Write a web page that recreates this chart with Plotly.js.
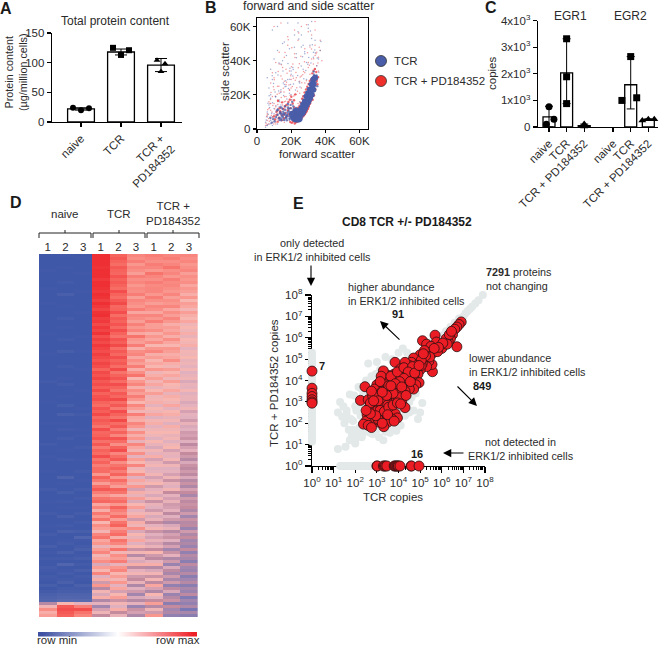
<!DOCTYPE html>
<html>
<head>
<meta charset="utf-8">
<title>ERK1/2 inhibition proteomics figure</title>
<script src="https://cdn.plot.ly/plotly-3.0.1.min.js"></script>
<style>
  body { margin: 0; background: #fff; }
</style>
</head>
<body>
<div id="chart"></div>
<script>
// Panel A: total protein content
const groupNames = ['naive', 'TCR', 'TCR +<br>PD184352'];
const proteinMeans = [22, 118, 96];
const proteinErr = [2, 5, 11];
const proteinNaive = [24, 20, 23];
const proteinTcr = [125, 113, 121];
const proteinPd = [104, 85, 98];

// Panel B: forward / side scatter, in thousands
const coreFsc = [21,22,23,24,25,22,23,24,25,26,24,25,26,27,26,27,28,27,28,29,28,29,30,29,30,31,30,31,32,31,32,33,32,33,33,34,21.5,22.5,23.5,24.5,22.5,23.5,24.5,20.5];
const coreSsc = [8,7,7,7,8,9,9,9,9,9,6,6,10,10,12,12,12,14,14,14,16,16,16,19,18,18,21,20,20,23,23,23,26,26,29,30,6.5,5.5,5.5,5.5,10.5,10.5,10.5,9];
const hazeRedFsc = [19.5,20.4,21.2,22.1,22.8,23.6,24.3,25.1,25.8,26.4,27.2,27.9,28.6,29.3,30.1,30.8,31.4,32.2,32.9,33.6,34.3,35.1,34.7,33.9,33.1,32.4,31.7,30.9,30.2,29.4,28.7,27.9,27.1,26.4,25.6,24.9,24.1,23.4,22.6,21.8,21.1,20.3,19.6,18.8,18.1,17.4,16.6,15.9,15.1,14.4,13.6,12.9,12.1,11.4,10.6,9.9,17.2,16.3,15.5,14.7,13.8,13.1,12.3,11.6,18.4,19.2,20.1,20.9,21.7,22.5,30.4,31.1,32.6,33.4,34.2,35.4,35.8,34.9,27.4,28.2,29.1,29.9];
const hazeRedSsc = [4.1,3.6,4.4,3.2,3.9,4.2,4.8,5.1,5.9,6.8,7.6,8.7,9.8,11.2,12.9,14.6,16.3,18.2,20.7,22.9,25.8,28.9,33.4,35.2,34.1,32.6,29.1,28.2,26.4,24.8,23.1,21.4,19.2,17.7,15.4,13.6,12.4,11.8,11.1,12.6,10.2,9.4,12.2,8.6,10.8,7.4,9.2,6.3,8.1,5.2,10.4,6.6,4.3,8.2,5.5,7.3,14.1,13.2,11.7,15.6,9.4,12.1,16.4,10.3,15.8,17.2,18.9,14.9,16.8,20.3,13.4,15.1,17.1,19.6,23.2,26.2,30.4,27.8,8.2,9.1,10.4,11.9];
const hazeBlueFsc = [11.2,12.1,12.9,13.7,14.6,15.3,16.2,17.1,17.9,18.7,19.4,20.2,21.1,21.8,12.4,13.2,14.1,14.9,15.8,16.6,17.4,18.2,19.1,19.9,20.7,21.5,22.3,13.6,14.4,15.2,16.1,16.9,17.7,18.6,19.3,20.1,21.0,22.1,16.4,18.1,19.7,21.3,22.9,24.2,25.4,26.6,27.6,28.4,29.2,30.3,31.2,32.1,32.8,33.7,34.4,25.1,26.1,27.1,27.8,28.9,29.8,30.7,31.6,32.6,33.4,35.3,34.9,33.2,20.6,18.6,9.4,10.3,8.6,7.8,15.6,17.3,19.6,13.9,11.7,14.2];
const hazeBlueSsc = [7.1,8.3,6.4,9.2,7.7,10.1,8.4,6.9,9.6,7.4,8.9,6.7,9.9,7.8,11.2,5.6,6.2,11.8,5.4,11.3,5.1,12.6,5.8,12.1,5.3,11.4,4.9,9.9,8.6,7.1,9.1,6.3,8.2,10.4,6.2,9.7,8.3,10.6,13.4,14.6,14.1,13.2,12.3,5.4,6.1,7.4,8.3,10.1,12.2,14.4,16.1,18.3,20.4,23.1,27.1,12.9,15.1,17.2,19.4,21.6,23.9,26.2,27.9,30.1,31.8,25.1,31.4,33.6,15.9,11.9,5.8,4.6,3.7,6.6,8.9,7.9,7.2,12.7,10.9,5.1];
const redFsc = [5,6,6,7,7,8,8,9,9,10,10,11,11,12,12,13,13,14,14,15,15,16,16,17,17,18,18,19,19,20,20,21,22,23,24,25,26,27,28,29,30,31,32,33,34,35,36,37,38,8,9,10,11,12,13,14,15,16,17,18,19,20,21,22,24,26,28,30,32,34,36,6,7,8,9,10,11,12,13,14,16,18,20,22,25,28,31,34,37,10,14,18,22,26,30,34,13,17,23,29,35,
  5.6,6.3,7.2,7.9,8.4,9.3,9.8,10.7,11.3,12.2,12.8,13.4,14.2,15.1,15.8,16.7,17.3,18.2,19.1,19.8,20.7,21.6,22.4,23.3,24.2,25.3,26.2,27.3,5.3,6.8,7.6,8.8,9.6,10.4,11.8,12.6,13.7,14.8,15.4,16.1,17.6,18.7,19.4,20.2,21.3,22.8,23.7,24.8,25.7,26.8,27.8,28.9,29.6,30.7,31.9,33.2,34.6,35.7,36.4,6.1,8.2,10.1,12.4,14.3,16.4,18.3,20.4,22.2,24.4];
const redSsc = [2,5,9,3,12,6,15,4,19,8,23,3,13,6,17,5,10,8,22,5,14,4,28,7,19,5,12,9,34,7,17,5,6,10,15,21,24,18,27,22,36,32,41,38,43,37,34,46,40,27,33,30,39,25,45,31,36,42,26,49,23,29,38,44,52,31,47,39,55,49,42,8,16,11,7,15,4,9,21,12,16,11,24,20,28,33,48,58,52,60,62,54,58,60,57,63,38,35,30,61,45,
  7.3,11.2,4.6,17.3,8.1,13.7,2.9,19.2,9.6,14.3,25.1,6.7,18.4,11.9,21.6,16.3,27.4,13.8,22.7,31.2,24.9,19.3,28.6,24.2,35.8,30.4,27.1,33.6,3.4,6.1,14.9,9.9,24.7,11.7,20.3,16.8,12.6,29.3,23.8,18.9,32.6,25.7,19.8,36.4,29.7,33.1,22.1,38.2,42.6,31.7,39.4,28.3,44.7,37.3,46.8,41.2,44.1,38.7,47.9,2.6,21.4,28.8,33.7,37.6,44.8,52.3,47.6,41.9,56.2];
const blueFsc = [5,5,6,6,6,7,7,8,8,9,9,10,10,10,11,11,12,12,12,13,13,13,14,14,14,15,15,15,16,16,16,17,17,17,18,18,18,19,19,19,20,20,20,21,21,21,22,22,7,9,11,13,15,17,19,21,23,25,27,29,31,33,35,37,6,8,10,12,14,16,18,20,22,24,26,28,30,32,34,36,9,12,15,18,21,24,27,30,33,36,11,16,20,25,29,34,19,26,32,8,14,
  5.4,6.6,7.4,8.1,9.1,10.2,10.9,11.9,12.7,13.3,14.7,15.6,16.4,17.5,18.4,19.2,20.4,21.4,22.6,23.8,24.6,25.9,27.4,28.6,30.3,31.6,33.8,5.8,7.1,8.6,9.7,11.1,12.3,13.9,15.2,16.8,18.1,19.6,21.2,23.1,25.2,27.9,29.7,32.4,34.1,36.2,6.4,8.9,10.6,12.9,15.4,17.2,19.3,21.9,24.5,26.7,31.3,35.3,37.4];
const blueSsc = [1,4,2,7,10,3,14,5,18,2,7,4,9,12,6,10,3,8,12,5,9,13,7,10,14,6,9,12,5,8,11,7,10,13,6,9,15,5,8,12,7,10,20,6,9,14,5,11,24,29,33,17,40,25,21,31,44,27,35,39,49,42,37,46,30,35,41,46,38,51,29,32,55,62,48,44,59,53,52,41,58,60,50,62,36,57,49,61,45,30,19,26,34,16,29,35,47,55,63,20,23,
  5.3,8.7,12.6,3.1,15.4,6.2,18.7,11.4,22.3,15.9,12.8,19.6,24.8,17.6,23.7,29.1,17.2,26.3,22.8,31.4,27.6,36.9,29.4,34.2,41.8,38.6,46.3,2.2,19.4,9.2,26.7,13.8,31.6,21.4,33.9,28.2,38.4,26.1,34.8,41.7,24.6,45.2,37.9,49.3,44.6,33.2,15.1,31.2,21.7,38.6,26.9,43.1,35.6,47.8,52.7,42.3,57.4,41.6,51.2];

// Panel C: EGR1 and EGR2 copies
const egrPositions = [0, 1, 2, 3.64, 4.64, 5.64];
const egrLabels = ['naive', 'TCR', 'TCR + PD184352', 'naive', 'TCR', 'TCR + PD184352'];
const egrMeans = [380, 2040, 50, null, 1590, 280];
const egrUp = [400, 1280, 60, null, 1060, 30];
const egrDown = [380, 1160, 40, null, 910, 30];
const egrCirclesX = [0, 0.28, -0.15];
const egrCirclesY = [765, 290, 100];
const egrSquaresX = [1, 1, 1, 4.64, 4.14, 4.98];
const egrSquaresY = [3320, 1890, 880, 2650, 1000, 1100];
const egrTrianglesX = [2, 2, 2, 5.3, 5.64, 5.98];
const egrTrianglesY = [110, 40, 20, 240, 290, 290];

// Panel D: heatmap columns, 0 = row min blue, 90 = row max red
const heatNaive1 = [
  0,0,0,0,0,1,0,0,0,0,0,1, 0,0,0,0,1,0,0,0,0,0,0,0, 0,0,1,0,0,0,0,0,0,1,0,0, 0,0,0,0,0,0,2,0,0,0,0,0,
  0,1,0,0,0,0,0,0,1,0,0,0, 0,0,0,2,0,0,0,1,0,0,0,0, 1,0,0,0,0,0,3,0,0,0,1,0, 0,0,2,0,0,0,1,0,0,3,0,0,
  0,4,0,1,0,2,0,0,3,1,0,2, 1,0,4,0,2,6,8,10,36,58,70,62,66];
const heatNaive2 = [
  1,0,0,0,1,0,0,0,0,2,0,0, 0,5,0,0,0,1,0,0,0,3,0,0, 1,0,0,0,2,0,0,0,4,0,0,0, 0,2,0,0,0,1,0,3,0,0,0,1,
  0,0,4,0,0,6,0,0,1,0,2,0, 0,3,0,0,0,1,0,0,2,0,0,0, 0,0,8,0,1,0,0,4,0,0,2,0, 1,0,0,5,0,0,2,0,6,0,0,1,
  3,0,0,6,0,2,0,9,0,1,3,0, 2,6,0,3,4,8,10,12,60,82,84,82,80];
const heatNaive3 = [
  0,1,0,0,0,0,1,0,0,0,0,0, 1,0,0,0,0,0,0,1,0,0,0,0, 0,0,0,1,0,0,0,0,1,0,0,0, 0,0,1,0,0,0,0,0,0,1,0,0,
  0,0,0,1,0,2,0,0,0,0,1,0, 1,0,0,0,2,0,0,0,1,0,0,0, 2,0,0,1,0,0,3,0,0,2,0,0, 1,0,3,0,0,2,0,0,4,0,9,1,
  0,2,6,0,1,4,0,2,0,5,0,3, 1,0,6,2,4,8,9,12,52,74,84,76,72];
const heatTcr1 = [
  90,90,90,90,89,90,90,90,88,90,90,89, 88,90,89,87,90,88,86,89,90,87,88,85, 88,86,89,84,87,85,88,86,84,87,85,83,
  86,84,80,85,83,86,82,84,81,85,80,83, 84,80,78,83,81,85,79,82,80,76,84,79, 80,83,77,82,75,80,78,84,76,80,74,78,
  78,68,80,75,66,77,82,74,68,76,79,64, 72,62,75,68,76,60,70,66,58,72,76,64, 68,54,66,72,58,64,70,48,66,60,72,50,
  62,44,68,36,58,48,62,34,52,30,46,56, 40,52,34,48,28,42,36,46,28,40,14,10,8];
const heatTcr2 = [
  80,82,80,78,82,80,79,83,80,82,80,78, 84,80,78,82,85,79,80,84,78,82,80,83, 79,84,80,77,83,81,85,78,82,79,84,80,
  82,78,85,76,80,83,78,84,80,76,82,79, 85,78,82,75,84,80,76,85,78,82,74,80, 72,83,78,70,80,84,72,78,82,70,76,80,
  74,80,68,78,72,66,80,76,64,74,78,68, 80,74,70,78,66,76,80,68,74,78,62,76, 72,62,76,58,70,66,74,54,68,72,60,66,
  58,68,52,64,46,60,66,42,58,50,62,40, 54,44,60,36,50,46,56,38,48,32,44,14,8];
const heatTcr3 = [
  72,70,74,68,72,70,66,74,70,72,68,71, 70,74,66,72,70,68,74,64,72,70,66,73, 68,72,64,76,68,66,74,62,70,72,64,70,
  66,74,62,70,76,60,68,72,62,70,66,74, 68,60,72,66,58,74,64,62,72,68,56,70, 62,68,54,72,64,58,70,52,66,60,72,56,
  60,70,50,64,56,68,46,62,54,66,48,60, 66,52,58,64,44,62,56,70,48,60,54,64, 50,60,42,58,36,54,48,62,38,52,58,44,
  40,54,34,50,44,30,48,36,52,28,42,46, 34,48,28,42,36,30,44,26,38,24,30,12,8];
const heatPd1 = [
  74,72,70,74,72,68,76,72,70,74,71,72, 72,68,74,70,66,72,70,64,72,68,74,66, 66,70,62,68,64,70,60,68,72,62,66,60,
  64,60,68,56,62,66,58,64,54,60,66,56, 58,62,52,60,56,64,50,58,62,52,56,60, 56,50,60,54,48,58,52,62,46,54,58,50,
  52,58,46,54,60,44,52,56,48,58,42,54, 50,44,56,48,54,40,52,58,42,50,46,54, 46,54,40,60,44,38,52,62,36,48,58,42,
  58,38,64,46,34,60,50,40,66,36,56,44, 68,42,54,34,62,38,48,30,36,28,34,16,8];
const heatPd2 = [
  72,74,70,72,76,70,72,68,74,71,72,70, 68,72,66,70,68,72,64,70,66,72,68,62, 66,64,68,62,70,64,60,68,66,62,64,70,
  62,58,66,60,64,56,66,60,58,64,54,62, 60,56,64,52,60,62,54,58,50,62,56,60, 54,58,50,56,60,46,54,52,58,44,56,50,
  52,46,56,42,54,50,58,40,52,46,54,44, 46,52,38,50,44,34,48,54,36,46,42,50, 36,46,30,42,52,34,44,28,48,38,32,44,
  32,44,26,38,48,28,36,42,24,40,30,34, 26,40,30,22,36,28,24,34,20,28,22,14,10];
const heatPd3 = [
  72,70,72,68,70,72,66,70,68,70,64,68, 66,62,68,60,66,64,58,66,62,60,64,56, 60,56,62,54,60,58,62,52,58,56,60,54,
  56,52,58,50,54,56,48,54,52,58,50,54, 54,48,52,56,46,52,50,44,54,48,50,44, 46,42,50,38,46,52,40,44,36,48,42,38,
  44,38,48,36,42,34,46,40,32,44,38,42, 40,34,44,30,42,36,38,28,44,34,40,30, 34,28,40,26,36,32,24,38,30,28,36,24,
  30,36,24,32,28,38,22,30,26,34,20,32, 24,30,20,34,26,22,30,24,28,18,24,14,10];
const heatSampleLabels = ['1', '2', '3', '1', '2', '3', '1', '2', '3'];
const rampValues = [0, 1, 2, 3, 4, 5, 6, 7, 8, 9, 10, 11, 12, 13, 14, 15, 16, 17, 18, 19, 20];

// Panel E: log10 copies for each protein
const greyLogTcr = [
  1.2,1.55,1.8,2.0,2.1,2.3,1.9,2.2,2.4,2.6,2.8,3.0,2.5,2.9,3.2,3.4,1.3,1.2,1.45,1.6,1.75,1.9,2.05,2.2,2.35,2.55,
  1.5,1.7,1.85,2.05,2.25,1.4,1.6,1.8,2.0,2.2,3.4,3.6,3.8,4.0,4.3,4.5,4.7,5.1,5.0,4.9,4.6,4.4,4.2,
  2.6,3.0,3.4,4.4,3.7,4.0,4.2,2.3,2.5,2.75,2.95,3.15,1.95,2.15,
  5.4,5.6,5.8,6.0,6.2,6.4,6.6,6.8,7.0,7.1,7.2,7.3,7.4,7.55,7.7,7.9,
  0,0,0,0,0,0,0,0,0,0,0,0,0,0,0,0,0,0,0,0,0,0,0,0,0,0,0,0,0,0,
  1.3,1.4,1.5,1.6,1.7,1.8,1.9,2.0,2.1,2.2,2.3,2.4,2.5,2.6,2.7,2.8,2.9,3.0,3.1,3.2,
  1.6,1.75,2.0,2.3,2.7,3.1,3.3,3.6,3.9,4.1,4.2,4.5,4.8];
const greyLogPd = [
  0.8,0.9,1.25,1.2,1.55,1.4,1.7,1.8,1.7,1.6,1.5,1.7,2.1,2.0,1.9,2.0,3.0,2.5,2.8,2.2,3.35,2.1,2.6,2.9,3.3,3.4,
  2.0,1.7,1.45,1.5,2.35,2.3,2.6,2.2,2.8,3.7,1.6,1.85,2.0,2.3,2.35,2.5,2.6,2.95,2.5,2.2,3.2,2.9,3.5,
  4.8,4.86,5.1,5.3,5.0,5.3,5.5,3.6,4.0,4.2,4.3,4.5,3.3,3.7,
  5.7,5.9,6.0,6.1,6.3,6.5,6.7,6.9,7.0,7.15,7.25,7.35,7.45,7.6,7.75,8.0,
  5.3,5.15,5.0,4.85,4.7,4.55,4.4,4.25,4.1,3.95,3.8,3.65,3.5,3.35,3.2,3.05,2.9,2.75,2.6,2.45,2.3,2.15,2.0,1.85,1.7,1.55,1.45,1.35,1.25,1.15,
  0,0,0,0,0,0,0,0,0,0,0,0,0,0,0,0,0,0,0,0,
  2.4,1.2,1.05,1.35,1.55,1.35,1.2,1.55,1.65,1.9,2.9,3.0,3.4];
const redLogTcr = [
  6.90,6.80,6.70,6.60,6.70,6.50,6.40,6.30,6.20,6.35,6.10,6.00,5.90,5.69,5.75,5.11,5.30,5.50,5.60,5.80,5.40,5.20,5.00,5.57,5.55,
  5.40,5.20,5.30,5.10,4.90,4.70,4.60,4.50,4.80,5.00,3.84,4.30,4.40,4.60,4.90,4.70,4.50,4.95,4.80,4.70,4.40,4.20,4.10,4.00,3.80,
  3.50,3.30,3.20,3.60,3.85,4.10,4.30,4.50,4.30,4.05,3.80,3.60,3.40,3.20,3.00,2.90,2.45,2.24,2.60,2.80,3.00,3.20,3.40,3.70,3.90,
  4.15,4.30,4.00,3.55,3.30,3.10,2.85,2.65,2.95,3.15,3.35,3.60,3.85,3.95,3.70,3.50,3.10,2.90,2.70,2.55,2.50,2.38,2.60,2.75,3.32,3.05,
  3.25,3.45,3.75,3.15,2.75,3.55,3.65,3.95,4.25,4.55,4.65,4.85,5.05,3.35,3.05,2.95,2.70,3.25,3.50,
  6.45,6.25,6.05,5.85,5.65,5.45,5.25,5.05,4.85,4.65,4.45,4.25,4.05,3.85,3.65,3.45,3.25,3.05,2.85,3.15,3.35,3.55,3.75,3.95,4.15,4.35,4.55,4.75,4.95,5.15,2.95,3.25,3.5,3.8,4.1,2.7,2.5,
  0,0,0,0,0,0,0,
  3.0,3.02,3.3,3.35,3.4,3.46,3.8,3.84,3.88,3.93,3.97,4.0,4.07,4.58,4.6,4.95];
const redLogPd = [
  6.74,6.62,6.50,6.40,5.58,6.15,5.95,5.80,5.95,6.15,5.65,5.50,5.70,6.12,5.80,5.86,5.70,5.60,5.30,5.35,5.30,5.40,5.20,4.41,4.75,
  4.90,5.00,4.65,4.80,4.90,5.05,4.85,4.70,4.55,4.50,4.85,4.85,4.50,4.35,4.30,4.15,4.15,3.90,3.80,3.60,4.00,4.30,4.55,4.20,4.30,
  4.25,4.45,4.20,4.00,4.05,3.90,3.80,3.60,3.50,3.55,3.65,3.50,3.80,3.60,3.80,3.60,3.71,3.07,3.10,3.30,3.30,3.10,3.20,3.20,3.10,
  3.00,2.73,3.20,2.90,2.70,2.85,2.80,2.75,2.50,2.40,2.30,2.60,2.45,2.25,2.20,2.05,2.05,2.15,2.25,2.40,2.10,1.96,1.90,1.80,1.84,2.20,
  3.50,3.45,3.40,3.95,3.50,3.75,4.20,4.40,4.60,4.30,4.55,4.65,4.70,2.55,2.65,3.00,2.95,2.95,2.85,
  6.3,5.7,5.75,5.55,5.5,5.1,5.15,4.95,4.7,4.65,4.4,4.1,3.95,3.85,3.75,3.3,3.45,3.05,3.05,2.6,2.55,2.75,2.85,2.95,3.7,3.3,3.95,4.35,4.7,5.25,2.35,2.0,2.4,2.1,2.9,2.45,2.6,
  4.44,3.64,3.4,3.25,3.1,3.0,2.94,
  0,0,0,0,0,0,0,0,0,0,0,0,0,0,0,0];
const decadeExponents = [0, 1, 2, 3, 4, 5, 6, 7, 8];

// Figure geometry in pixels
const W = 660;
const H = 646;
const FONT = 'Liberation Sans, Arial, sans-serif';
const INK = '#2b2b2b';

const domX = (a, b) => [a / W, b / W];
const domY = (top, bottom) => [1 - bottom / H, 1 - top / H];

function note(text, x, y, opts) {
    return Object.assign({
        xref: 'paper', yref: 'paper', x: x / W, y: 1 - y / H,
        text: text, showarrow: false, xanchor: 'center', yanchor: 'middle',
        font: { family: FONT, size: 11.5, color: INK }
    }, opts || {});
}

function boldNote(text, x, y, size) {
    return note('<b>' + text + '</b>', x, y, { font: { family: FONT, size: size, color: '#1a1a1a' } });
}

function smallNote(text, x, y, opts) {
    return note(text, x, y, Object.assign({ font: { family: FONT, size: 10.8, color: INK } }, opts || {}));
}

function arrow(tailX, tailY, headX, headY) {
    return {
        xref: 'paper', yref: 'paper', x: headX / W, y: 1 - headY / H,
        axref: 'pixel', ayref: 'pixel', ax: tailX - headX, ay: tailY - headY,
        text: '', showarrow: true, arrowhead: 2, arrowsize: 1.5, arrowwidth: 1.1, arrowcolor: '#000'
    };
}

function paperLine(x0, y0, x1, y1) {
    return {
        type: 'line', xref: 'paper', yref: 'paper',
        x0: x0 / W, x1: x1 / W, y0: 1 - y0 / H, y1: 1 - y1 / H,
        line: { color: '#222', width: 1 }
    };
}

function swatch(cx, cy, color) {
    const r = 5.5;
    return {
        type: 'circle', xref: 'paper', yref: 'paper',
        x0: (cx - r) / W, x1: (cx + r) / W, y0: 1 - (cy + r) / H, y1: 1 - (cy - r) / H,
        fillcolor: color, line: { color: '#333', width: 0.8 }
    };
}

function axisStyle(extra) {
    return Object.assign({
        showgrid: false, zeroline: false, showline: true, linecolor: '#000', linewidth: 1.3,
        ticks: 'outside', ticklen: 4, tickwidth: 1.2, tickcolor: '#000',
        tickfont: { family: FONT, size: 11.5, color: INK }
    }, extra);
}

function dots(x, y, xaxis, yaxis, symbol, size) {
    return {
        type: 'scatter', mode: 'markers', x: x, y: y, xaxis: xaxis, yaxis: yaxis,
        marker: { symbol: symbol, size: size, color: '#000' }, cliponaxis: false
    };
}

function specks(x, y, color, size, opacity) {
    return {
        type: 'scatter', mode: 'markers', x: x, y: y, xaxis: 'x2', yaxis: 'y2',
        marker: { size: size, color: color, opacity: opacity }
    };
}

const traces = [
    // A
    {
        type: 'bar', x: [0, 1, 2], y: proteinMeans, xaxis: 'x', yaxis: 'y', width: 0.67,
        marker: { color: '#fff', line: { color: '#000', width: 1.3 } },
        error_y: { type: 'data', array: proteinErr, color: '#000', thickness: 1, width: 6 }
    },
    dots([-0.2, 0, 0.2], proteinNaive, 'x', 'y', 'circle', 6),
    dots([0.8, 1, 1.2], proteinTcr, 'x', 'y', 'square', 6),
    dots([1.9, 2, 2.1], proteinPd, 'x', 'y', 'triangle-up', 6),
    // B
    specks(redFsc, redSsc, '#e8434a', 1.5, 0.55),
    specks(blueFsc, blueSsc, '#5568b0', 1.5, 0.55),
    specks(hazeRedFsc, hazeRedSsc, '#e8333a', 2.4, 0.75),
    specks(hazeBlueFsc, hazeBlueSsc, '#4a5da8', 2.4, 0.75),
    specks(coreFsc, coreSsc, '#4a5da8', 6, 1),
    // C
    {
        type: 'bar', x: egrPositions, y: egrMeans, xaxis: 'x3', yaxis: 'y3', width: 0.68,
        marker: { color: '#fff', line: { color: '#000', width: 1.3 } },
        error_y: { type: 'data', symmetric: false, array: egrUp, arrayminus: egrDown, color: '#000', thickness: 1, width: 4 }
    },
    dots(egrCirclesX, egrCirclesY, 'x3', 'y3', 'circle', 7),
    dots(egrSquaresX, egrSquaresY, 'x3', 'y3', 'square', 7),
    dots(egrTrianglesX, egrTrianglesY, 'x3', 'y3', 'triangle-up', 7),
    // D
    {
        type: 'heatmap', xaxis: 'x4', yaxis: 'y4', showscale: false, zmin: 0, zmax: 90,
        z: heatNaive1.map((v, i) => [v, heatNaive2[i], heatNaive3[i], heatTcr1[i], heatTcr2[i], heatTcr3[i], heatPd1[i], heatPd2[i], heatPd3[i]]),
        colorscale: [
            [0, '#4058a8'], [1 / 9, '#5266ad'], [2 / 9, '#7a78b4'], [3 / 9, '#a286ad'], [4 / 9, '#c48b9f'],
            [5 / 9, '#e0b0bf'], [6 / 9, '#f7b6b0'], [7 / 9, '#f98e86'], [8 / 9, '#f6635d'], [1, '#ee2f34']
        ]
    },
    {
        type: 'heatmap', xaxis: 'x5', yaxis: 'y5', showscale: false, zsmooth: 'best',
        z: [rampValues], zmin: 0, zmax: 20,
        colorscale: [[0, '#3f51a3'], [0.5, '#ffffff'], [1, '#ee2027']]
    },
    // E
    {
        type: 'scatter', mode: 'markers', xaxis: 'x6', yaxis: 'y6', cliponaxis: false,
        x: greyLogTcr.map(v => 10 ** v), y: greyLogPd.map(v => 10 ** v),
        marker: { size: 8, color: '#e3e8e8' }
    },
    {
        type: 'scatter', mode: 'markers', xaxis: 'x6', yaxis: 'y6', cliponaxis: false,
        x: redLogTcr.map(v => 10 ** v), y: redLogPd.map(v => 10 ** v),
        marker: { size: 10, color: '#ec1c24', line: { color: '#2a1010', width: 0.8 } }
    }
];

const decadeVals = decadeExponents.map(k => 10 ** k);
const decadeText = decadeExponents.map(k => '10<sup>' + k + '</sup>');

const layout = {
    width: W, height: H, autosize: false, showlegend: false,
    margin: { l: 0, r: 0, t: 0, b: 0 },
    paper_bgcolor: '#fff', plot_bgcolor: 'rgba(0,0,0,0)',
    font: { family: FONT, color: INK },

    xaxis: axisStyle({
        domain: domX(52, 182), anchor: 'y', range: [-0.725, 2.525],
        tickmode: 'array', tickvals: [0, 1, 2], ticktext: groupNames, tickangle: -45
    }),
    yaxis: axisStyle({ domain: domY(33, 122), anchor: 'x', range: [0, 150], tickmode: 'array', tickvals: [0, 50, 100, 150] }),

    xaxis2: axisStyle({
        domain: domX(257, 368), anchor: 'y2', range: [0, 65], mirror: true, ticklen: 3,
        tickmode: 'array', tickvals: [0, 20, 40, 60], ticktext: ['0', '20K', '40K', '60K'],
        ticklabelstandoff: -2
    }),
    yaxis2: axisStyle({
        domain: domY(18, 129), anchor: 'x2', range: [0, 65], mirror: true, ticklen: 3,
        tickmode: 'array', tickvals: [0, 20, 40, 60], ticktext: ['0', '20K', '40K', '60K']
    }),

    xaxis3: axisStyle({
        domain: domX(538, 658), anchor: 'y3', range: [-0.625, 6.19],
        tickmode: 'array', tickvals: egrPositions, ticktext: egrLabels, tickangle: -45
    }),
    yaxis3: axisStyle({
        domain: domY(20.7, 127), anchor: 'x3', range: [0, 4000],
        tickmode: 'array', tickvals: [0, 1000, 2000, 3000, 4000],
        ticktext: ['0', '1x10<sup>3</sup>', '2x10<sup>3</sup>', '3x10<sup>3</sup>', '4x10<sup>3</sup>']
    }),

    xaxis4: {
        domain: domX(39, 197.7), anchor: 'y4', side: 'top', showgrid: false, zeroline: false, showline: false,
        tickmode: 'array', tickvals: [0, 1, 2, 3, 4, 5, 6, 7, 8], ticktext: heatSampleLabels, ticks: '',
        tickfont: { family: FONT, size: 11.5, color: INK }
    },
    yaxis4: { domain: domY(254, 617), anchor: 'x4', autorange: 'reversed', visible: false },

    xaxis5: { domain: domX(38, 197), anchor: 'y5', visible: false },
    yaxis5: { domain: domY(632, 636.5), anchor: 'x5', visible: false },

    xaxis6: axisStyle({
        domain: domX(312, 485), anchor: 'y6', type: 'log', range: [0, 8], layer: 'below traces',
        tickmode: 'array', tickvals: decadeVals, ticktext: decadeText, ticklen: 6,
        minor: { ticks: 'outside', ticklen: 3, tickwidth: 1, tickcolor: '#000', dtick: 'D1', showgrid: false }
    }),
    yaxis6: axisStyle({
        domain: domY(295, 466), anchor: 'x6', type: 'log', range: [0, 8], layer: 'below traces',
        tickmode: 'array', tickvals: decadeVals, ticktext: decadeText, ticklen: 6,
        minor: { ticks: 'outside', ticklen: 3, tickwidth: 1, tickcolor: '#000', dtick: 'D1', showgrid: false }
    }),

    shapes: [
        swatch(381, 61, '#4a5da8'),
        swatch(381, 81, '#ee2f2a'),
        paperLine(39, 233, 91, 233), paperLine(39, 233, 39, 238), paperLine(91, 233, 91, 238), paperLine(65, 233, 65, 230),
        paperLine(93, 233, 145, 233), paperLine(93, 233, 93, 238), paperLine(145, 233, 145, 238), paperLine(119, 233, 119, 230),
        paperLine(147, 233, 199, 233), paperLine(147, 233, 147, 238), paperLine(199, 233, 199, 238), paperLine(173, 233, 173, 230)
    ],

    annotations: [
        boldNote('A', 6, 8, 16), boldNote('B', 211, 7, 16), boldNote('C', 491, 7, 16),
        boldNote('D', 16, 202, 16), boldNote('E', 298, 203, 16),
        note('Total protein content', 115, 21, { font: { family: FONT, size: 12, color: INK } }),
        note('Protein content<br>(µg/million cells)', 16, 72, { font: { family: FONT, size: 10.8, color: INK }, textangle: -90 }),
        note('forward and side scatter', 308, 6, { font: { family: FONT, size: 12.3, color: INK } }),
        note('side scatter', 225, 71, { textangle: -90 }),
        note('forward scatter', 317, 154),
        note('TCR', 392, 61, { xanchor: 'left' }),
        note('TCR + PD184352', 392, 81, { xanchor: 'left' }),
        note('copies', 492, 74, { textangle: -90 }),
        note('EGR1', 570, 16, { font: { family: FONT, size: 12, color: INK } }),
        note('EGR2', 630, 16, { font: { family: FONT, size: 12, color: INK } }),
        note('naive', 65, 214), note('TCR', 119, 214), note('TCR +<br>PD184352', 173, 213),
        note('row min', 57, 640), note('row max', 178, 640),
        boldNote('CD8 TCR +/- PD184352', 407, 222, 12),
        smallNote('only detected<br>in ERK1/2 inhibited cells', 312, 249.5),
        arrow(311, 264, 311, 286),
        smallNote('higher abundance<br>in ERK1/2 inhibited cells', 346, 294.5, { xanchor: 'left', align: 'left' }),
        boldNote('91', 398, 314, 11),
        arrow(401, 341, 380, 321),
        smallNote('<b>7291</b> proteins<br>not changing', 484, 278.5, { xanchor: 'left', align: 'left' }),
        smallNote('lower abundance<br>in ERK1/2 inhibited cells', 467, 364.5, { xanchor: 'left', align: 'left' }),
        boldNote('849', 482, 386, 11),
        arrow(456, 385, 477, 406),
        smallNote('not detected in<br>ERK1/2 inhibited cells', 521, 448.5),
        arrow(465, 453, 443, 453),
        boldNote('16', 417, 454, 11),
        boldNote('7', 322, 366, 11),
        note('TCR copies', 393, 497),
        note('TCR + PD184352 copies', 274, 383, { textangle: -90 })
    ]
};

Plotly.newPlot('chart', traces, layout, { displayModeBar: false, staticPlot: true });
</script>
</body>
</html>
